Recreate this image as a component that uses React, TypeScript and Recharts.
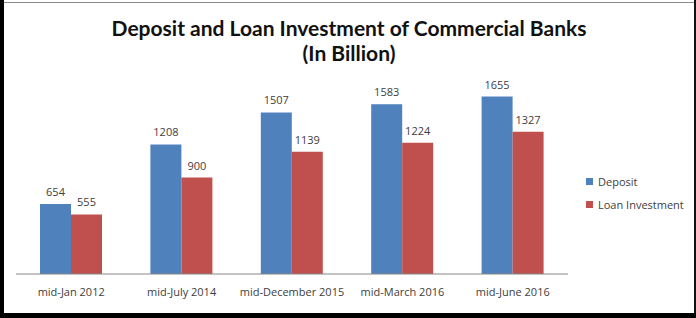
import React from 'react';
import { BarChart, Bar, XAxis, YAxis, Legend, LabelList } from 'recharts';

const periods = ['mid-Jan 2012', 'mid-July 2014', 'mid-December 2015', 'mid-March 2016', 'mid-June 2016'];
const deposit = [654, 1208, 1507, 1583, 1655];
const loanInvestment = [555, 900, 1139, 1224, 1327];

const data = periods.map((period, i) => ({
  period,
  deposit: deposit[i],
  loan: loanInvestment[i],
}));

const textColor = '#404040';
const smallFont = '"Open Sans", sans-serif';

const renderLegend = (props: any) => {
  const { payload } = props;
  return (
    <div style={{ fontFamily: smallFont, fontSize: 11, color: textColor }}>
      {payload.map((entry: any) => (
        <div key={entry.value} style={{ display: 'flex', alignItems: 'center', height: 23 }}>
          <span style={{ width: 7, height: 7, background: entry.color, marginRight: 5, display: 'inline-block' }} />
          {entry.value}
        </div>
      ))}
    </div>
  );
};

export default function App() {
  return (
    <div style={{ position: 'absolute', left: 0, top: 0, width: 696, height: 318, background: '#fff', overflow: 'hidden' }}>
      {/* sheet frame */}
      <div style={{ position: 'absolute', left: 0, top: 2, width: 696, height: 1, background: '#8a8a8a' }} />
      <div style={{ position: 'absolute', left: 0, top: 0, width: 4, height: 318, background: '#000' }} />
      <div style={{ position: 'absolute', right: 0, top: 0, width: 2, height: 318, background: '#111' }} />
      <div style={{ position: 'absolute', left: 0, top: 313, width: 696, height: 5, background: '#000' }} />

      <div
        style={{
          position: 'absolute',
          left: 0,
          top: 15,
          width: 698,
          textAlign: 'center',
          fontFamily: 'Lato, sans-serif',
          fontWeight: 700,
          fontSize: 21,
          lineHeight: '25px',
          color: '#111',
        }}
      >
        Deposit and Loan Investment of Commercial Banks
        <br />
        (In Billion)
      </div>

      <BarChart
        width={696}
        height={318}
        data={data}
        margin={{ top: 81, right: 18, left: 16, bottom: 14 }}
        barGap={0}
        barSize={31}
        style={{ position: 'absolute', left: 0, top: 0 }}
      >
        <XAxis
          dataKey="period"
          height={30}
          axisLine={{ stroke: '#868686' }}
          tickLine={false}
          tickSize={0}
          tickMargin={14}
          tick={{ fill: textColor, fontSize: 11, fontFamily: smallFont }}
          interval={0}
        />
        <YAxis hide domain={[0, 1800]} />
        <Legend
          layout="vertical"
          align="right"
          verticalAlign="top"
          content={renderLegend}
          wrapperStyle={{ position: 'absolute', left: 586, top: 170, width: 110 }}
        />
        <Bar dataKey="deposit" name="Deposit" fill="#4F81BD" isAnimationActive={false}>
          <LabelList dataKey="deposit" position="top" offset={8} fill={textColor} fontSize={11} fontFamily={smallFont} />
        </Bar>
        <Bar dataKey="loan" name="Loan Investment" fill="#C0504D" isAnimationActive={false}>
          <LabelList dataKey="loan" position="top" offset={8} fill={textColor} fontSize={11} fontFamily={smallFont} />
        </Bar>
      </BarChart>
    </div>
  );
}
